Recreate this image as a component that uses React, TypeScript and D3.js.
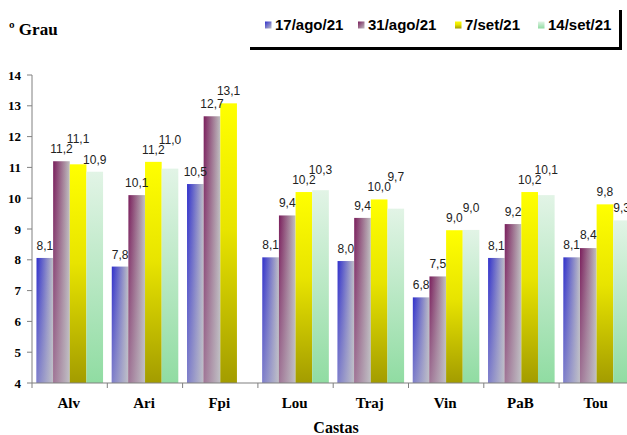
import React from "react";
import * as d3 from "d3";

const categories = ["Alv", "Ari", "Fpi", "Lou", "Traj", "Vin", "PaB", "Tou"];
const seriesNames = ["17/ago/21", "31/ago/21", "7/set/21", "14/set/21"];
const s1 = [8.06, 7.78, 10.46, 8.08, 7.96, 6.78, 8.06, 8.08];
const s2 = [11.2, 10.1, 12.66, 9.44, 9.36, 7.46, 9.16, 8.38];
const s3 = [11.1, 11.18, 13.08, 10.2, 9.96, 8.96, 10.2, 9.8];
const s4: (number | null)[] = [10.86, 10.96, null, 10.26, 9.66, 8.97, 10.1, 9.28];
const yTicks = [4, 5, 6, 7, 8, 9, 10, 11, 12, 13, 14];
const yLabel = "º Grau";
const xLabel = "Castas";

const W = 627;
const H = 435;

export default function App() {
  const series = [s1, s2, s3, s4];
  const y = d3.scaleLinear().domain([4, 14]).range([383, 75]);
  const x0 = d3
    .scaleBand<string>()
    .domain(categories)
    .range([32, 32 + 8 * 75.3])
    .paddingInner(0.116)
    .paddingOuter(0.06);
  const x1 = d3
    .scaleBand<string>()
    .domain(seriesNames)
    .range([0, x0.bandwidth()])
    .padding(0);
  const fmt = (v: number) => d3.format(".1f")(v).replace(".", ",");
  const fills = ["url(#g0)", "url(#g1)", "url(#g2)", "url(#g3)"];
  const step = 75.3;
  const boundaries = d3.range(0, 9).map((i) => 32 + i * step);
  const legendX = [265, 358, 455, 538];

  // label placement with simple vertical collision avoidance within a group
  const labelBaselines: (number | null)[][] = categories.map((_, ci) => {
    let prev: number | null = null;
    return series.map((s) => {
      const v = s[ci];
      if (v == null) {
        prev = null;
        return null;
      }
      let b = y(v) - 8;
      if (prev != null && Math.abs(b - prev) < 10) b = prev - 10;
      prev = b;
      return b;
    });
  });

  return (
    <div style={{ position: "absolute", left: 0, top: 0, width: W, height: H, background: "#fff" }}>
      <svg width={W} height={H} style={{ display: "block" }}>
        <defs>
          <linearGradient id="g0" x1="0" y1="0" x2="1" y2="0">
            <stop offset="0" stopColor="#3030cc" />
            <stop offset="1" stopColor="#c0c0c6" />
          </linearGradient>
          <linearGradient id="g1" x1="0" y1="0" x2="1" y2="0">
            <stop offset="0" stopColor="#7a1e5c" />
            <stop offset="1" stopColor="#c0c0c0" />
          </linearGradient>
          <linearGradient id="g2" x1="0" y1="0" x2="0" y2="1">
            <stop offset="0" stopColor="#ffff00" />
            <stop offset="0.45" stopColor="#e8e400" />
            <stop offset="1" stopColor="#a39c00" />
          </linearGradient>
          <linearGradient id="g3" x1="0" y1="0" x2="0" y2="1">
            <stop offset="0" stopColor="#e2f4e6" />
            <stop offset="1" stopColor="#90dca2" />
          </linearGradient>
          <linearGradient id="ov" x1="0" y1="0" x2="0" y2="1">
            <stop offset="0" stopColor="#c0c0c8" stopOpacity="0" />
            <stop offset="1" stopColor="#c0c0c8" stopOpacity="0.55" />
          </linearGradient>
          <linearGradient id="lg0" x1="0" y1="0" x2="1" y2="1">
            <stop offset="0" stopColor="#3030cc" />
            <stop offset="1" stopColor="#c0c0c6" />
          </linearGradient>
          <linearGradient id="lg1" x1="0" y1="0" x2="1" y2="1">
            <stop offset="0" stopColor="#7a1e5c" />
            <stop offset="1" stopColor="#c0c0c0" />
          </linearGradient>
        </defs>

        {/* bars */}
        {categories.map((c, ci) => (
          <g key={c} transform={`translate(${x0(c)},0)`}>
            {series.map((s, si) => {
              const v = s[ci];
              if (v == null) return null;
              const bx = x1(seriesNames[si])!;
              const bw = x1.bandwidth();
              const top = y(v);
              const h = y(4) - top;
              return (
                <g key={si}>
                  <rect x={bx} y={top} width={bw} height={h} fill={fills[si]} />
                  {si < 2 && <rect x={bx} y={top} width={bw} height={h} fill="url(#ov)" />}
                </g>
              );
            })}
            {series.map((s, si) => {
              const v = s[ci];
              const b = labelBaselines[ci][si];
              if (v == null || b == null) return null;
              const bx = x1(seriesNames[si])!;
              const bw = x1.bandwidth();
              return (
                <text
                  key={"t" + si}
                  x={bx + bw / 2}
                  y={b}
                  textAnchor="middle"
                  fontFamily="'Liberation Sans', Arial, sans-serif"
                  fontSize={12}
                  fill="#222"
                >
                  {fmt(v)}
                </text>
              );
            })}
          </g>
        ))}

        {/* y axis */}
        <line x1={32} x2={32} y1={y(14)} y2={y(4)} stroke="#808080" strokeWidth={1} />
        {yTicks.map((t) => (
          <g key={t}>
            <line x1={27} x2={32} y1={y(t)} y2={y(t)} stroke="#808080" />
            <text
              x={21}
              y={y(t) + 4.5}
              textAnchor="end"
              fontFamily="'Liberation Serif', 'Times New Roman', serif"
              fontWeight="bold"
              fontSize={13}
              fill="#000"
            >
              {t}
            </text>
          </g>
        ))}

        {/* x axis */}
        <line x1={32} x2={W} y1={y(4)} y2={y(4)} stroke="#808080" strokeWidth={1.2} />
        {boundaries.map((bx, i) => (
          <line key={i} x1={bx} x2={bx} y1={y(4)} y2={y(4) + 5} stroke="#808080" />
        ))}
        {categories.map((c) => (
          <text
            key={c}
            x={x0(c)! + x0.bandwidth() / 2 - 1}
            y={408}
            textAnchor="middle"
            fontFamily="'Liberation Serif', 'Times New Roman', serif"
            fontWeight="bold"
            fontSize={15}
            fill="#000"
          >
            {c}
          </text>
        ))}
        <text
          x={336}
          y={433}
          textAnchor="middle"
          fontFamily="'Liberation Serif', 'Times New Roman', serif"
          fontWeight="bold"
          fontSize={16}
          fill="#000"
        >
          {xLabel}
        </text>

        <text
          x={9}
          y={35}
          fontFamily="'Liberation Serif', 'Times New Roman', serif"
          fontWeight="bold"
          fontSize={17}
          fill="#000"
        >
          {yLabel}
        </text>

        {/* legend */}
        <line x1={250} x2={622} y1={48.5} y2={48.5} stroke="#000" strokeWidth={3} />
        <line x1={620.5} x2={620.5} y1={10} y2={50} stroke="#000" strokeWidth={3} />
        {seriesNames.map((n, i) => (
          <g key={n}>
            <rect
              x={legendX[i]}
              y={21.5}
              width={6.5}
              height={7}
              fill={i === 0 ? "url(#lg0)" : i === 1 ? "url(#lg1)" : fills[i]}
            />
            <text
              x={legendX[i] + 10}
              y={30}
              fontFamily="'Liberation Sans', Arial, sans-serif"
              fontWeight="bold"
              fontSize={15}
              fill="#000"
            >
              {n}
            </text>
          </g>
        ))}
      </svg>
    </div>
  );
}
